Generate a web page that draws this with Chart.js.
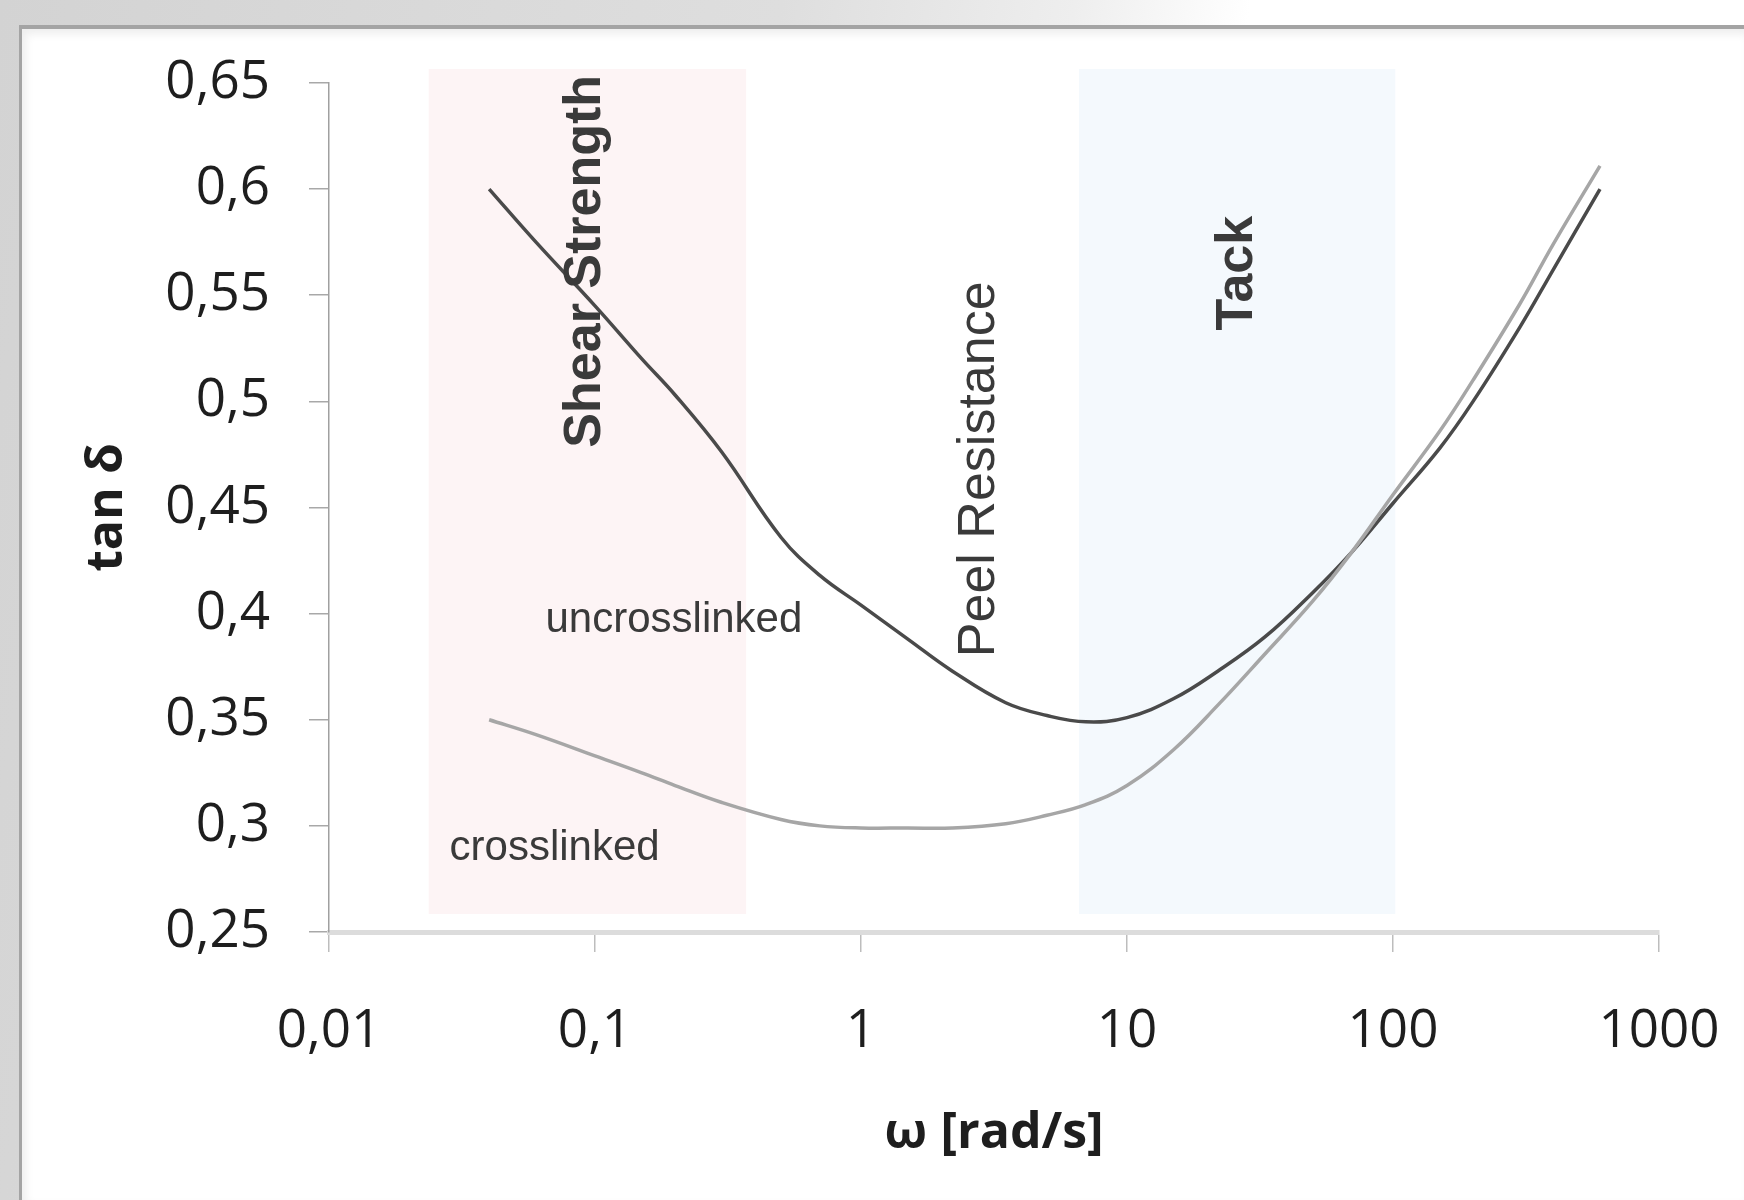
<!DOCTYPE html>
<html>
<head>
<meta charset="utf-8">
<title>tan delta vs frequency</title>
<script src="https://cdn.jsdelivr.net/npm/chart.js@4.4.1/dist/chart.umd.min.js"></script>
<style>
  html, body { margin: 0; padding: 0; }
  body {
    width: 1744px; height: 1200px; overflow: hidden; position: relative;
    background: linear-gradient(100deg, #d3d3d3 0%, #dedede 40%, #eeeeee 55%, #ffffff 64%, #ffffff 100%);
  }
  #panel {
    position: absolute; left: 19px; top: 25px; right: 0; bottom: 0;
    background: #ffffff;
    border-left: 3px solid #a4a4a4; border-top: 4px solid #a4a4a4;
    box-shadow: inset 4px 5px 8px rgba(0, 0, 0, 0.07);
  }
  #chartBox { position: absolute; left: 0; top: 0; width: 1744px; height: 1200px; }
</style>
</head>
<body>
<div id="panel"></div>
<div id="chartBox"><canvas id="tanDeltaChart" width="1744" height="1200"></canvas></div>
<script>
// frequency points (rad/s) and tan delta
const omega = [0.04, 0.06, 0.1, 0.15, 0.2, 0.3, 0.5, 0.7, 1, 1.5, 2.2, 3.5, 5, 7, 10, 15, 22, 33, 50, 70, 100, 150, 200, 300, 400, 600];
const uncrosslinked = [0.600, 0.575, 0.545, 0.520, 0.503, 0.476, 0.436, 0.418, 0.404, 0.388, 0.373, 0.358, 0.352, 0.349, 0.351, 0.360, 0.373, 0.389, 0.410, 0.429, 0.452, 0.478, 0.500, 0.535, 0.562, 0.600];
const crosslinked = [0.350, 0.343, 0.333, 0.325, 0.319, 0.311, 0.303, 0.300, 0.299, 0.299, 0.299, 0.301, 0.305, 0.310, 0.319, 0.336, 0.357, 0.381, 0.406, 0.429, 0.456, 0.486, 0.510, 0.546, 0.574, 0.611];

const xTickValues = [0.01, 0.1, 1, 10, 100, 1000];
const xTickLabels = ['0,01', '0,1', '1', '10', '100', '1000'];
const yTickValues = [0.25, 0.3, 0.35, 0.4, 0.45, 0.5, 0.55, 0.6, 0.65];
const yTickLabels = ['0,25', '0,3', '0,35', '0,4', '0,45', '0,5', '0,55', '0,6', '0,65'];

// shaded frequency windows (rad/s) and their vertical extent (tan delta)
const bandFrom = [0.0237, 6.6];
const bandTo = [0.37, 102];
const bandBottom = 0.2585;
const bandTop = 0.6566;

// text notes placed in data coordinates
const noteText = ['Shear Strength', 'Peel Resistance', 'Tack', 'uncrosslinked', 'crosslinked'];
const noteX = [0.092, 2.8, 26.0, 0.198, 0.0705];
const noteY = [0.566, 0.468, 0.5604, 0.3967, 0.2896];

const bandColors = ['#fdf4f5', '#f4f9fd'];
const noteStyles = [
  {font: 'bold 52px "Liberation Sans", Arial, sans-serif', rotate: true},
  {font: '52px "Liberation Sans", Arial, sans-serif', rotate: true},
  {font: 'bold 52px "Liberation Sans", Arial, sans-serif', rotate: true},
  {font: '42px "Liberation Sans", Arial, sans-serif', rotate: false},
  {font: '42px "Liberation Sans", Arial, sans-serif', rotate: false}
];

function toPoints(xs, ys) {
  const pts = [];
  for (let i = 0; i < xs.length; i++) {
    pts.push({x: xs[i], y: ys[i]});
  }
  return pts;
}

// draws the two shaded windows under the curves and the notes on top
const regionPlugin = {
  id: 'regions',
  beforeDatasetsDraw(chart) {
    const {ctx, scales: {x, y}} = chart;
    ctx.save();
    for (let i = 0; i < bandFrom.length; i++) {
      const left = x.getPixelForValue(bandFrom[i]);
      const right = x.getPixelForValue(bandTo[i]);
      const top = y.getPixelForValue(bandTop);
      const bottom = y.getPixelForValue(bandBottom);
      ctx.fillStyle = bandColors[i];
      ctx.fillRect(left, top, right - left, bottom - top);
    }
    ctx.restore();
  },
  afterDatasetsDraw(chart) {
    const {ctx, scales: {x, y}} = chart;
    for (let i = 0; i < noteText.length; i++) {
      ctx.save();
      ctx.translate(x.getPixelForValue(noteX[i]), y.getPixelForValue(noteY[i]));
      if (noteStyles[i].rotate) ctx.rotate(-Math.PI / 2);
      ctx.font = noteStyles[i].font;
      ctx.fillStyle = '#3a3a3a';
      ctx.textAlign = 'center';
      ctx.textBaseline = 'middle';
      ctx.fillText(noteText[i], 0, 0);
      ctx.restore();
    }
  }
};

const ctx = document.getElementById('tanDeltaChart').getContext('2d');
new Chart(ctx, {
  type: 'line',
  data: {
    datasets: [{
      label: 'crosslinked',
      data: toPoints(omega, crosslinked),
      borderColor: '#a6a6a6',
      borderWidth: 3.5,
      pointRadius: 0,
      fill: false,
      tension: 0.4
    }, {
      label: 'uncrosslinked',
      data: toPoints(omega, uncrosslinked),
      borderColor: '#4a4a4a',
      borderWidth: 3.5,
      pointRadius: 0,
      fill: false,
      tension: 0.4
    }]
  },
  options: {
    responsive: false,
    animation: false,
    devicePixelRatio: 1,
    layout: {padding: {top: 83, right: 85, bottom: 0, left: 0}},
    plugins: {legend: {display: false}, tooltip: {enabled: false}},
    scales: {
      x: {
        type: 'logarithmic',
        min: 0.01,
        max: 1000,
        afterBuildTicks(scale) {
          scale.ticks = xTickValues.map(v => ({value: v, major: true}));
        },
        afterFit(scale) {
          scale.height = 268;
          scale.paddingLeft = 0;
          scale.paddingRight = 0;
        },
        ticks: {
          autoSkip: false,
          maxRotation: 0,
          padding: 48,
          color: '#1e1e1e',
          font: {family: '"Open Sans", sans-serif', size: 53},
          callback: (value, index) => xTickLabels[index]
        },
        grid: {drawOnChartArea: false, drawTicks: true, tickLength: 20, color: '#bdbdbd', lineWidth: 1.5},
        border: {display: true, color: '#dcdcdc', width: 5},
        title: {
          display: true,
          text: 'ω [rad/s]',
          color: '#1e1e1e',
          font: {family: '"Open Sans", sans-serif', size: 50, weight: 'bold'},
          padding: {top: 0, bottom: 36}
        }
      },
      y: {
        type: 'linear',
        min: 0.25,
        max: 0.65,
        afterBuildTicks(scale) {
          scale.ticks = yTickValues.map(v => ({value: v}));
        },
        afterFit(scale) {
          scale.width = 329;
          scale.paddingTop = 0;
          scale.paddingBottom = 0;
        },
        ticks: {
          padding: 39,
          color: '#1e1e1e',
          font: {family: '"Open Sans", sans-serif', size: 53},
          callback: (value, index) => yTickLabels[index]
        },
        grid: {drawOnChartArea: false, drawTicks: true, tickLength: 20, color: '#a8a8a8', lineWidth: 1.5},
        border: {display: true, color: '#a0a0a0', width: 1.5},
        title: {
          display: true,
          text: 'tan δ',
          color: '#1e1e1e',
          font: {family: '"Open Sans", sans-serif', size: 50, weight: 'bold'},
          padding: {top: 78, bottom: 0}
        }
      }
    }
  },
  plugins: [regionPlugin]
});
</script>
</body>
</html>
